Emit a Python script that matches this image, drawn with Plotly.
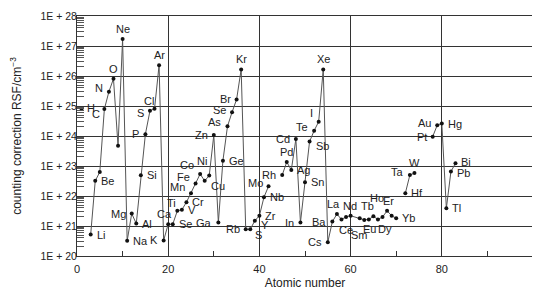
import math
import plotly.graph_objects as go

# ---- data ----
atomic_number = [1, 2, 3, 4, 5, 6, 7, 8, 9, 10, 11, 12, 13, 14, 15, 16, 17, 18, 19, 20,
                 21, 22, 23, 24, 25, 26, 27, 28, 29, 30, 31, 32, 33, 34, 35, 36, 37, 38, 39, 40,
                 41, 42, 44, 45, 46, 47, 48, 49, 50, 51, 52, 53, 54, 55, 56, 57, 58, 59, 60,
                 62, 63, 64, 65, 66, 67, 68, 69, 70, 71, 72, 73, 74, 76, 78, 79, 80, 81, 82, 83]
symbol = ["H", "", "Li", "Be", "", "C", "N", "O", "", "Ne", "Na", "Mg", "Al", "Si", "P", "S", "Cl", "Ar", "K", "Ca",
          "Se", "Ti", "V", "Cr", "Mn", "Fe", "Co", "Ni", "Cu", "Zn", "Ga", "Ge", "As", "Se", "Br", "Kr", "Rb", "S", "Y", "Zr",
          "Nb", "Mo", "", "Rh", "Pd", "Ag", "Cd", "In", "Sn", "Sb", "Te", "I", "Xe", "Cs", "Ba", "La", "Ce", "", "Nd",
          "Sm", "Eu", "", "Tb", "Dy", "Ho", "Er", "", "Yb", "", "Hf", "Ta", "W", "", "Pt", "Au", "Hg", "Tl", "Pb", "Bi"]
rsf = [7.9e24, None, 5.2e20, 3.2e22, 6.3e22, 7.9e24, 3.0e25, 8.1e25, 4.7e23, 1.7e27,
       3.2e20, 2.6e21, 1.2e21, 4.9e22, 1.15e24, 6.9e24, 8.1e24, 2.3e26, 3.3e20, 1.15e21,
       1.15e21, 3.2e21, 3.5e21, 6.2e21, 1.23e22, 2.6e22, 5.4e22, 3.2e22, 4.8e22, 1.07e24,
       1.3e21, 1.5e23, 2.1e24, 6.2e24, 1.66e25, 1.66e26, 7.8e20, 7.8e20, 1.5e21, 2.2e21,
       9.1e21, 2.1e22, None, 5.0e22, 1.35e23, 7.4e22, 7.9e23, 1.3e21, 2.9e22, 6.5e23,
       1.5e24, 3.0e24, 1.66e26, 2.9e20, 1.4e21, 2.5e21, 1.66e21, 2.0e21, 2.2e21,
       1.8e21, 1.6e21, 1.66e21, 2.1e21, 1.66e21, 2.0e21, 3.2e21, 2.2e21, 1.8e21, None,
       1.23e22, 5.0e22, 5.8e22, None, 9.5e23, 2.3e24, 2.6e24, 3.9e21, 6.5e22, 1.23e23]

y_tick_values = [1e20, 1e21, 1e22, 1e23, 1e24, 1e25, 1e26, 1e27, 1e28]
y_tick_labels = ["1E + 20", "1E + 21", "1E + 22", "1E + 23", "1E + 24",
                 "1E + 25", "1E + 26", "1E + 27", "1E + 28"]
x_tick_values = [0, 20, 40, 60, 80, 100]

# ---- label placement styles (xanchor, xshift, yshift) ----
R = ("left", 4, 0)
L = ("right", -4, 0)
A = ("center", 0, 10)
label_pos = {
    "H": ("left", 3, 1), "Li": R, "Be": R, "C": ("right", -2, -5), "N": ("right", -4, 4), "O": A, "Ne": A,
    "Na": R, "Mg": L, "Al": R, "Si": R, "P": L, "S16": ("right", -4, -2), "Cl": ("center", -6, 8),
    "Ar": A, "K": L, "Ca": ("center", -4, 10), "Se21": R, "Ti": ("center", -6, 8), "V": R, "Cr": R,
    "Mn": ("right", -4, 6), "Fe": ("right", -4, 7), "Co": ("right", -4, 9), "Ni": ("center", -3, 20),
    "Cu": ("left", 0, -10), "Zn": L, "Ga": L, "Ge": R, "As": ("right", -4, 4), "Se": ("right", -4, 2),
    "Br": L, "Kr": A, "Rb": L, "S38": ("left", 3, -6), "Y": ("left", 4, -4), "Zr": R, "Nb": R,
    "Mo": ("right", -4, 3), "Rh": L, "Pd": A, "Ag": R, "Cd": L, "In": L, "Sn": R, "Sb": ("left", 4, -4),
    "Te": ("right", -4, 4), "I": ("center", -7, 9), "Xe": A, "Cs": L, "Ba": L,
    "La": ("center", -3, 10), "Ce": ("center", 5, -11), "Nd": ("center", -1, 10),
    "Sm": ("center", 0, -17), "Eu": ("center", 5, -9), "Tb": ("center", -6, 10),
    "Dy": ("center", 7, -10), "Ho": ("center", -6, 19), "Er": ("center", 1, 10), "Yb": R,
    "Hf": R, "Ta": ("right", -4, 3), "W": A, "Pt": L, "Au": ("right", -4, 2), "Hg": R,
    "Tl": R, "Pb": ("left", 4, -1), "Bi": ("left", 4, 1),
}

FONT = "Liberation Sans, Arial, Helvetica, sans-serif"

fig = go.Figure()
fig.add_trace(go.Scatter(
    x=atomic_number, y=rsf, mode="lines+markers",
    line=dict(color="#555555", width=1),
    marker=dict(color="#111111", size=4),
    connectgaps=False, hoverinfo="skip", showlegend=False,
))

annotations = []
for z, s, v in zip(atomic_number, symbol, rsf):
    if not s or v is None:
        continue
    key = s
    if s == "S" and z == 16:
        key = "S16"
    elif s == "S" and z == 38:
        key = "S38"
    elif s == "Se" and z == 21:
        key = "Se21"
    xa, xs, ys = label_pos.get(key, R)
    annotations.append(dict(
        x=z, y=math.log10(v), xref="x", yref="y", text=s, showarrow=False,
        xanchor=xa, yanchor="middle", xshift=xs, yshift=ys,
        font=dict(family=FONT, size=11, color="#222222"),
    ))

minor_vals = [float(m) * 10.0 ** e for e in range(20, 28) for m in range(2, 10)]

# page body has an 8px default margin, so the figure is sized to fit the 540x292 window
fig.update_layout(
    width=532, height=284,
    margin=dict(l=69, r=7, t=8, b=36, autoexpand=False),
    paper_bgcolor="white", plot_bgcolor="white",
    font=dict(family=FONT, size=10, color="#222222"),
    annotations=annotations,
)
fig.update_xaxes(
    range=[0, 100], tickmode="array", tickvals=x_tick_values,
    ticks="inside", ticklen=5, tickcolor="#333333",
    showgrid=True, gridcolor="#333333", gridwidth=1,
    showline=True, linecolor="#333333", linewidth=1, mirror=True,
    zeroline=False,
    minor=dict(dtick=10, tick0=0, ticks="inside", ticklen=5, tickcolor="#333333", showgrid=False),
    tickfont=dict(family=FONT, size=11, color="#222222"),
    ticklabelstandoff=3,
    title=dict(text="Atomic number", font=dict(family=FONT, size=12, color="#222222"), standoff=4),
    automargin=False,
)
fig.update_yaxes(
    type="log", range=[20, 28], tickmode="array", tickvals=y_tick_values, ticktext=y_tick_labels,
    ticks="inside", ticklen=7, tickcolor="#333333",
    showgrid=True, gridcolor="#333333", gridwidth=1,
    showline=True, linecolor="#333333", linewidth=1, mirror=True,
    zeroline=False,
    minor=dict(tickmode="array", tickvals=minor_vals, ticks="inside", ticklen=7,
               tickcolor="#555555", showgrid=False),
    tickfont=dict(family=FONT, size=10.5, color="#222222"),
    ticklabelstandoff=-3,
    title=dict(text="counting correction RSF/cm<sup>\u22123</sup>",
               font=dict(family=FONT, size=12, color="#222222"), standoff=23),
    automargin=False,
)

fig.write_html("out.html")
